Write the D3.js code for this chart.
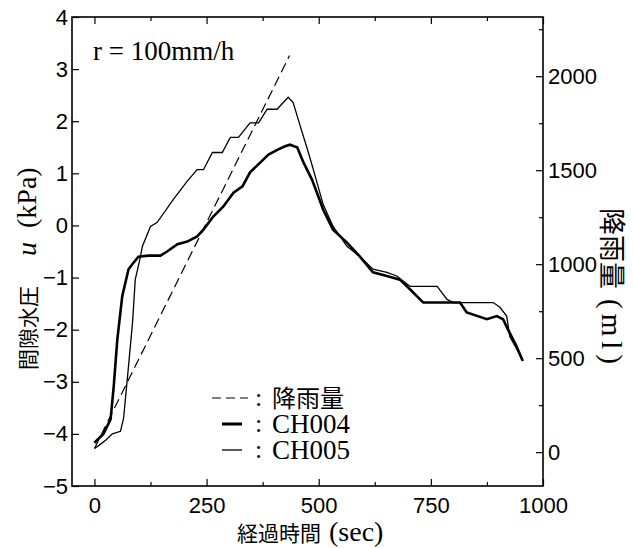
<!DOCTYPE html>
<html>
<head>
<meta charset="utf-8">
<script src="https://cdn.jsdelivr.net/npm/d3@7"></script>
<style>
  body { margin: 0; background: #fff; }
  svg { display: block; }
</style>
</head>
<body>
<div id="chart"></div>
<script>
// elapsed time ticks (sec)
const timeTicks = [0, 250, 500, 750, 1000];
const timeMinor = [125, 375, 625, 875];
// pore pressure ticks (kPa)
const uTicks = [-5, -4, -3, -2, -1, 0, 1, 2, 3, 4];
// rainfall ticks (ml)
const rainTicks = [0, 500, 1000, 1500, 2000];
const rainMinor = [250, 750, 1250, 1750, 2250];

// rainfall (dashed, right axis)
const rainT = [0, 435];
const rainMl = [20, 2110];

// CH004 (thick)
const ch004T = [0, 20, 36, 43, 51, 62, 76, 84, 98, 120, 147, 162, 185, 207, 229, 243, 265, 287, 310, 330, 347, 370, 388, 410, 425, 436, 445, 452, 466, 485, 499, 510, 532, 563, 592, 621, 652, 681, 704, 733, 786, 815, 830, 875, 897, 911, 922, 940, 955];
const ch004U = [-4.17, -4.0, -3.72, -3.09, -2.19, -1.36, -0.84, -0.75, -0.6, -0.58, -0.58, -0.5, -0.36, -0.31, -0.21, -0.08, 0.17, 0.36, 0.63, 0.75, 1.02, 1.21, 1.36, 1.46, 1.52, 1.55, 1.52, 1.5, 1.21, 0.88, 0.56, 0.3, -0.08, -0.33, -0.6, -0.9, -0.97, -1.04, -1.23, -1.48, -1.48, -1.48, -1.67, -1.8, -1.74, -1.8, -2.0, -2.3, -2.6];

// CH005 (thin)
const ch005T = [0, 10, 25, 40, 58, 65, 76, 85, 91, 100, 107, 125, 140, 176, 207, 229, 243, 263, 285, 303, 321, 347, 366, 385, 407, 421, 432, 443, 459, 477, 492, 510, 532, 563, 592, 621, 652, 674, 704, 764, 786, 800, 889, 904, 919, 926, 940, 952];
const ch005U = [-4.28, -4.22, -4.12, -4.0, -3.95, -3.7, -2.7, -1.86, -1.04, -0.7, -0.4, -0.02, 0.06, 0.5, 0.85, 1.07, 1.07, 1.4, 1.4, 1.69, 1.69, 1.97, 1.97, 2.23, 2.23, 2.36, 2.46, 2.36, 1.9, 1.4, 0.95, 0.4, -0.02, -0.4, -0.6, -0.84, -0.9, -0.97, -1.17, -1.17, -1.42, -1.48, -1.48, -1.57, -1.74, -2.13, -2.35, -2.55];

const W = 633, H = 548;
const plotLeft = 72, plotRight = 543, plotTop = 17, plotBottom = 486;

const svg = d3.select("#chart").append("svg")
  .attr("width", W).attr("height", H);

const x = d3.scaleLinear().domain([-50, 1000]).range([plotLeft, plotRight]);
const yL = d3.scaleLinear().domain([-5, 4]).range([plotBottom, plotTop]);
const yR = d3.scaleLinear().domain([-180, 2315]).range([plotBottom, plotTop]);

const sans = "'Liberation Sans', Arial, sans-serif";
const serif = "'Liberation Serif', 'Times New Roman', serif";
const cjk = "'Noto Sans CJK JP', sans-serif";

function style(g) {
  g.select(".domain").remove();
  g.selectAll("line").attr("stroke", "#000").attr("stroke-width", 1.2);
  g.selectAll("text").attr("font-family", sans).attr("font-size", 22).attr("fill", "#000");
}

// bottom axis
svg.append("g").attr("transform", `translate(0,${plotBottom})`)
  .call(d3.axisBottom(x).tickValues(timeTicks).tickSize(-7).tickPadding(11).tickFormat(d3.format("d")))
  .call(style);
svg.append("g").attr("transform", `translate(0,${plotBottom})`)
  .call(d3.axisBottom(x).tickValues(timeMinor).tickSize(-4).tickFormat(""))
  .call(style);
// top axis (mirrored ticks)
svg.append("g").attr("transform", `translate(0,${plotTop})`)
  .call(d3.axisTop(x).tickValues(timeTicks).tickSize(-7).tickFormat(""))
  .call(style);
svg.append("g").attr("transform", `translate(0,${plotTop})`)
  .call(d3.axisTop(x).tickValues(timeMinor).tickSize(-4).tickFormat(""))
  .call(style);
// left axis
svg.append("g").attr("transform", `translate(${plotLeft},0)`)
  .call(d3.axisLeft(yL).tickValues(uTicks).tickSize(-7).tickPadding(4))
  .call(style);
// right axis
svg.append("g").attr("transform", `translate(${plotRight},0)`)
  .call(d3.axisRight(yR).tickValues(rainTicks).tickSize(-7).tickPadding(5).tickFormat(d3.format("d")))
  .call(style);
svg.append("g").attr("transform", `translate(${plotRight},0)`)
  .call(d3.axisRight(yR).tickValues(rainMinor).tickSize(-4).tickFormat(""))
  .call(style);

// frame
svg.append("rect")
  .attr("x", plotLeft).attr("y", plotTop)
  .attr("width", plotRight - plotLeft).attr("height", plotBottom - plotTop)
  .attr("fill", "none").attr("stroke", "#000").attr("stroke-width", 1.6);

// curves
const lineU = d3.line().x(d => x(d[0])).y(d => yL(d[1]));
const lineR = d3.line().x(d => x(d[0])).y(d => yR(d[1]));

svg.append("path")
  .datum(rainT.map((t, i) => [t, rainMl[i]]))
  .attr("d", lineR)
  .attr("fill", "none").attr("stroke", "#000").attr("stroke-width", 1.2)
  .attr("stroke-dasharray", "10,5");

svg.append("path")
  .datum(ch005T.map((t, i) => [t, ch005U[i]]))
  .attr("d", lineU)
  .attr("fill", "none").attr("stroke", "#000").attr("stroke-width", 1.3);

svg.append("path")
  .datum(ch004T.map((t, i) => [t, ch004U[i]]))
  .attr("d", lineU)
  .attr("fill", "none").attr("stroke", "#000").attr("stroke-width", 2.6);

// rainfall intensity note
svg.append("text")
  .attr("x", 93).attr("y", 60)
  .attr("font-family", serif).attr("font-size", 27)
  .text("r = 100mm/h");

// legend
const legend = [
  { label: "降雨量", font: cjk, size: 24, width: 1.2, dash: "9,5", x0: 212, x1: 248 },
  { label: "CH004", font: serif, size: 27, width: 3, dash: null, x0: 222, x1: 242 },
  { label: "CH005", font: serif, size: 27, width: 1.3, dash: null, x0: 222, x1: 242 }
];
legend.forEach((d, i) => {
  const cy = 398 + i * 26;
  svg.append("line")
    .attr("x1", d.x0).attr("x2", d.x1).attr("y1", cy).attr("y2", cy)
    .attr("stroke", "#000").attr("stroke-width", d.width)
    .attr("stroke-dasharray", d.dash);
  const t = svg.append("text")
    .attr("x", 255).attr("y", cy + 9);
  t.append("tspan").attr("font-family", serif).attr("font-size", 26).attr("dy", -1).text(":");
  t.append("tspan").attr("x", 272).attr("dy", 1)
    .attr("font-family", d.font).attr("font-size", d.size)
    .text(d.label);
});

// x axis title
const xt = svg.append("text")
  .attr("x", 237).attr("y", 541);
xt.append("tspan").attr("font-family", cjk).attr("font-size", 21).text("経過時間");
xt.append("tspan").attr("dx", 8).attr("font-family", serif).attr("font-size", 28).text("(sec)");

// left axis title
const lt = svg.append("text")
  .attr("transform", "translate(36,370) rotate(-90)");
lt.append("tspan").attr("font-family", cjk).attr("font-size", 21).text("間隙水圧");
lt.append("tspan").attr("dx", 30).attr("font-family", serif).attr("font-style", "italic").attr("font-size", 28).text("u");
lt.append("tspan").attr("dx", 14).attr("font-family", serif).attr("font-size", 28).text("(kPa)");

// right axis title
const rt = svg.append("text")
  .attr("transform", "translate(602,208) rotate(90)");
rt.append("tspan").attr("font-family", cjk).attr("font-size", 27).text("降雨量");
rt.append("tspan").attr("dx", 10).attr("font-family", serif).attr("font-size", 29)
  .attr("letter-spacing", 5).text("(ml)");
</script>
</body>
</html>
